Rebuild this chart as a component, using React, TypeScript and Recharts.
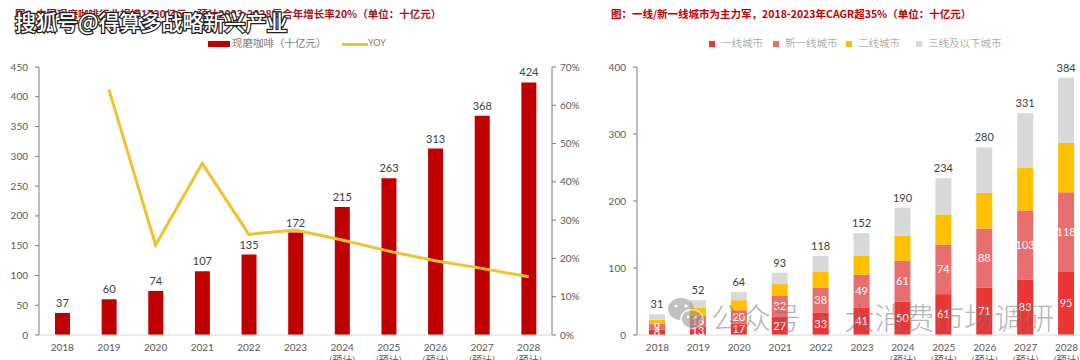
import React from 'react';
import { ComposedChart, Bar, Line, XAxis, YAxis, LabelList } from 'recharts';

const years = ['2018', '2019', '2020', '2021', '2022', '2023', '2024', '2025', '2026', '2027', '2028'];
const forecastYears = ['2024', '2025', '2026', '2027', '2028'];
const marketSize = [37, 60, 74, 107, 135, 172, 215, 263, 313, 368, 424];
const yoy = [null, 0.641, 0.235, 0.448, 0.263, 0.274, 0.248, 0.219, 0.194, 0.174, 0.152];
const leftTicks = [0, 50, 100, 150, 200, 250, 300, 350, 400, 450];
const rightTicks = [0, 0.1, 0.2, 0.3, 0.4, 0.5, 0.6, 0.7];

const tier1 = [8, 13, 17, 27, 33, 41, 50, 61, 71, 83, 95];
const newTier1 = [9, 16, 20, 32, 38, 49, 61, 74, 88, 103, 118];
const tier2 = [6, 12, 15, 17, 23, 28, 37, 45, 53, 64, 74];
const tier3 = [8, 11, 12, 17, 24, 34, 42, 54, 68, 81, 97];
const totals = [31, 52, 64, 93, 118, 152, 190, 234, 280, 331, 384];
const cityTicks = [0, 100, 200, 300, 400];

const leftTitle = '图：中国现磨咖啡行业规模1720亿元，预计2023-2028复合年增长率20%（单位：十亿元）';
const rightTitle = '图：一线/新一线城市为主力军，2018-2023年CAGR超35%（单位：十亿元）';
const leftLegend = ['现磨咖啡（十亿元）', 'YOY'];
const cityNames = ['一线城市', '新一线城市', '二线城市', '三线及以下城市'];
const cityColors = ['#EE3535', '#E96E6E', '#FFC000', '#D9D9D9'];

const coffeeData = years.map((y, i) => ({ year: y, value: marketSize[i], yoy: yoy[i] }));
const cityData = years.map((y, i) => ({
  year: y,
  t1: tier1[i],
  nt1: newTier1[i],
  t2: tier2[i],
  t3: tier3[i],
  total: totals[i],
}));

const NUM_FONT = "Lato, 'Noto Sans CJK SC', sans-serif";
const CJK_FONT = "'Noto Sans CJK SC', sans-serif";
const AXIS_COLOR = '#8B7474';

const YearTick = (props: any) => {
  const { x, y, payload } = props;
  const isF = forecastYears.includes(payload.value);
  return (
    <text x={x} y={y} textAnchor="middle" fill="#595959" fontSize={10} fontFamily={NUM_FONT}>
      <tspan x={x} dy={16}>{payload.value}</tspan>
      {isF && <tspan x={x} dy={12.5} fontFamily={CJK_FONT}>(预计)</tspan>}
    </text>
  );
};

const pct = (v: number) => `${Math.round(v * 100)}%`;

export default function App() {
  return (
    <div
      style={{
        position: 'absolute',
        left: 0,
        top: 0,
        width: 1080,
        height: 360,
        background: '#fff',
        overflow: 'hidden',
      }}
    >
      {/* Titles */}
      <div
        style={{
          position: 'absolute', left: 15, top: 6, fontSize: 10.5, fontWeight: 700,
          color: '#A3161E', fontFamily: CJK_FONT, whiteSpace: 'nowrap',
        }}
      >
        {leftTitle}
      </div>
      <div
        style={{
          position: 'absolute', left: 611, top: 6, fontSize: 10.5, fontWeight: 700,
          color: '#C00000', fontFamily: CJK_FONT, whiteSpace: 'nowrap',
        }}
      >
        {rightTitle}
      </div>

      {/* Left legend */}
      <div style={{ position: 'absolute', left: 208, top: 41, width: 22, height: 6, background: '#C00000' }} />
      <div style={{ position: 'absolute', left: 232, top: 35, fontSize: 10.5, color: '#808080', fontFamily: CJK_FONT, whiteSpace: 'nowrap' }}>
        {leftLegend[0]}
      </div>
      <div style={{ position: 'absolute', left: 342, top: 42.5, width: 26, height: 3, background: '#F2C12E' }} />
      <div style={{ position: 'absolute', left: 368, top: 36.5, fontSize: 9, color: '#808080', fontFamily: NUM_FONT, whiteSpace: 'nowrap' }}>
        {leftLegend[1]}
      </div>

      {/* Right legend */}
      {cityNames.map((n, i) => {
        const lefts = [709, 773, 846, 916];
        return (
          <React.Fragment key={n}>
            <div style={{ position: 'absolute', left: lefts[i], top: 41, width: 6, height: 6, background: cityColors[i] }} />
            <div
              style={{
                position: 'absolute', left: lefts[i] + 12, top: 35, fontSize: 10.5,
                color: '#8C8C8C', fontFamily: CJK_FONT, whiteSpace: 'nowrap', fontWeight: 300,
              }}
            >
              {n}
            </div>
          </React.Fragment>
        );
      })}

      {/* Left chart */}
      <div style={{ position: 'absolute', left: 0, top: 0 }}>
        <ComposedChart width={600} height={360} data={coffeeData} margin={{ top: 67, right: 8, bottom: 0, left: 9 }}>
          <XAxis
            dataKey="year"
            interval={0}
            height={25}
            tickLine={false}
            tickSize={0}
            tickMargin={0}
            axisLine={{ stroke: '#D9D9D9' }}
            tick={<YearTick />}
          />
          <YAxis
            yAxisId="left"
            width={30}
            domain={[0, 450]}
            ticks={leftTicks}
            interval={0}
            tickSize={4}
            tickMargin={7}
            axisLine={{ stroke: AXIS_COLOR }}
            tickLine={{ stroke: AXIS_COLOR }}
            tick={{ fill: '#595959', fontSize: 10, fontFamily: NUM_FONT }}
          />
          <YAxis
            yAxisId="right"
            orientation="right"
            width={40}
            domain={[0, 0.7]}
            ticks={rightTicks}
            interval={0}
            tickFormatter={pct}
            tickSize={4}
            tickMargin={4}
            axisLine={{ stroke: AXIS_COLOR }}
            tickLine={{ stroke: AXIS_COLOR }}
            tick={{ fill: '#595959', fontSize: 10, fontFamily: NUM_FONT, textAnchor: 'start' }}
          />
          <Bar yAxisId="left" dataKey="value" fill="#C00000" barSize={15} isAnimationActive={false}>
            <LabelList dataKey="value" position="top" offset={6} fill="#404040" fontSize={11} fontFamily={NUM_FONT} />
          </Bar>
          <Line
            yAxisId="right"
            dataKey="yoy"
            stroke="#F2C12E"
            strokeWidth={3}
            dot={false}
            activeDot={false}
            isAnimationActive={false}
          />
        </ComposedChart>
      </div>

      {/* Right chart */}
      <div style={{ position: 'absolute', left: 580, top: 0 }}>
        <ComposedChart width={515} height={360} data={cityData} margin={{ top: 67, right: 8, bottom: 0, left: 17 }}>
          <XAxis
            dataKey="year"
            interval={0}
            height={25}
            tickLine={false}
            tickSize={0}
            tickMargin={0}
            axisLine={{ stroke: '#D9D9D9' }}
            tick={<YearTick />}
          />
          <YAxis
            width={40}
            domain={[0, 400]}
            ticks={cityTicks}
            interval={0}
            tickSize={4}
            tickMargin={7}
            axisLine={{ stroke: AXIS_COLOR }}
            tickLine={{ stroke: AXIS_COLOR }}
            tick={{ fill: '#595959', fontSize: 10, fontFamily: NUM_FONT }}
          />
          <Bar dataKey="t1" stackId="a" fill={cityColors[0]} barSize={16} isAnimationActive={false}>
            <LabelList dataKey="t1" position="center" fill="#FFFFFF" fontSize={11} fontFamily={NUM_FONT} />
          </Bar>
          <Bar dataKey="nt1" stackId="a" fill={cityColors[1]} barSize={16} isAnimationActive={false}>
            <LabelList dataKey="nt1" position="center" fill="#FFFFFF" fontSize={11} fontFamily={NUM_FONT} />
          </Bar>
          <Bar dataKey="t2" stackId="a" fill={cityColors[2]} barSize={16} isAnimationActive={false} />
          <Bar dataKey="t3" stackId="a" fill={cityColors[3]} barSize={16} isAnimationActive={false}>
            <LabelList dataKey="total" position="top" offset={6} fill="#404040" fontSize={11} fontFamily={NUM_FONT} />
          </Bar>
        </ComposedChart>
      </div>

      {/* Watermarks */}
      <svg width={1080} height={360} style={{ position: 'absolute', left: 0, top: 0, pointerEvents: 'none' }}>
        <text
          x={15}
          y={30}
          fontSize={21}
          fontFamily={CJK_FONT}
          fontWeight={500}
          fill="#FFFFFF"
          stroke="#222222"
          strokeWidth={2.5}
          paintOrder="stroke"
          style={{ paintOrder: 'stroke' } as any}
        >
          搜狐号@得算多战略新兴产业
        </text>
        <g opacity={0.55} fill="#8F8F8F">
          <ellipse cx={681} cy={309} rx={13} ry={11} />
          <ellipse cx={692} cy={319} rx={11} ry={9.5} stroke="#FFFFFF" strokeWidth={1.5} />
          <circle cx={676} cy={306} r={1.6} fill="#FFFFFF" />
          <circle cx={686} cy={306} r={1.6} fill="#FFFFFF" />
          <circle cx={688} cy={317} r={1.3} fill="#FFFFFF" />
          <circle cx={696} cy={317} r={1.3} fill="#FFFFFF" />
        </g>
        <text x={711} y={329} fontSize={30} fontFamily={CJK_FONT} fontWeight={300} fill="#7A7A7A" opacity={0.55}>
          公众号 · 大消费市场调研
        </text>
      </svg>
    </div>
  );
}
